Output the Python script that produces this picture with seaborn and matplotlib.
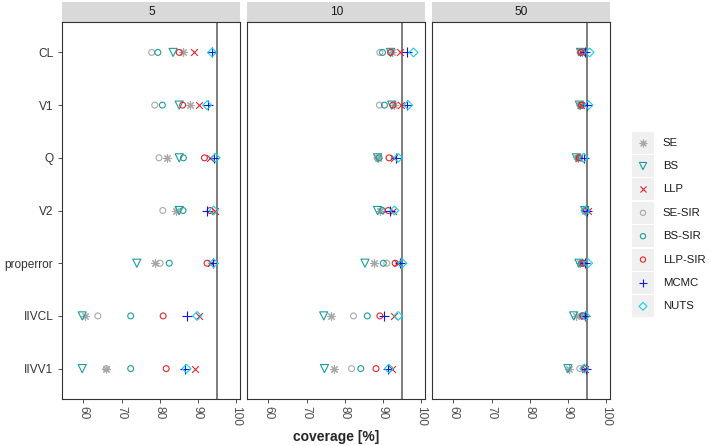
import pandas as pd
import seaborn as sns
import matplotlib.pyplot as plt
from matplotlib.patches import Rectangle

# parameters (rows, top to bottom), methods and facet panels
params = ["CL", "V1", "Q", "V2", "properror", "IIVCL", "IIVV1"]
methods = ["SE", "BS", "LLP", "SE-SIR", "BS-SIR", "LLP-SIR", "MCMC", "NUTS"]
panels = ["5", "10", "50"]

# coverage [%] per method, values in the order of params
cov_5 = {
    "SE":      [86.0, 87.8, 82.0, 84.2, 78.8, 60.4, 66.0],
    "BS":      [83.5, 85.1, 85.1, 85.1, 74.0, 59.7, 59.7],
    "LLP":     [88.9, 90.2, 93.2, 94.6, 93.4, 90.4, 89.3],
    "SE-SIR":  [77.9, 78.7, 79.8, 80.8, 80.1, 63.8, 66.0],
    "BS-SIR":  [79.5, 80.7, 86.2, 86.1, 82.5, 72.4, 72.4],
    "LLP-SIR": [85.1, 86.0, 91.7, 93.2, 92.4, 80.9, 81.7],
    "MCMC":    [93.7, 92.6, 94.1, 92.4, 93.9, 87.2, 86.5],
    "NUTS":    [93.7, 92.4, 94.6, 94.1, 94.1, 89.8, 87.0],
}
cov_10 = {
    "SE":      [92.3, 93.0, 88.8, 89.2, 87.7, 76.4, 77.3],
    "BS":      [92.0, 92.3, 88.6, 88.6, 85.3, 74.5, 74.7],
    "LLP":     [94.5, 94.7, 92.9, 92.6, 93.8, 93.0, 92.5],
    "SE-SIR":  [89.2, 89.1, 88.5, 89.6, 91.0, 82.3, 81.8],
    "BS-SIR":  [89.9, 90.4, 89.0, 89.9, 90.1, 85.9, 84.2],
    "LLP-SIR": [92.0, 92.6, 91.6, 91.4, 93.2, 89.2, 88.2],
    "MCMC":    [96.2, 96.4, 93.4, 91.9, 94.5, 90.4, 91.4],
    "NUTS":    [98.0, 96.6, 94.0, 93.0, 95.1, 94.0, 91.6],
}
cov_50 = {
    "SE":      [93.6, 93.2, 92.6, 94.6, 93.2, 92.0, 90.3],
    "BS":      [93.3, 93.0, 92.2, 94.4, 92.9, 91.5, 90.0],
    "LLP":     [93.5, 93.5, 92.8, 95.3, 94.0, 94.2, 94.6],
    "SE-SIR":  [93.2, 93.2, 92.4, 94.3, 93.5, 93.5, 93.1],
    "BS-SIR":  [93.4, 93.4, 92.8, 94.5, 93.6, 93.8, 94.2],
    "LLP-SIR": [93.4, 93.6, 93.0, 94.8, 94.0, 94.0, 94.4],
    "MCMC":    [94.5, 95.1, 94.1, 95.0, 94.4, 94.4, 94.8],
    "NUTS":    [95.7, 95.4, 94.1, 94.6, 95.3, 94.6, 94.3],
}
nominal = 95

styles = {
    "SE":      dict(marker=(8, 2, 0), color="#a8a8a8", s=30, open=False),
    "BS":      dict(marker="v", color="#1c9c9c", s=34, open=True),
    "LLP":     dict(marker="x", color="#e3262b", s=24, open=False),
    "SE-SIR":  dict(marker="o", color="#a8a8a8", s=18, open=True),
    "BS-SIR":  dict(marker="o", color="#1c9c9c", s=18, open=True),
    "LLP-SIR": dict(marker="o", color="#e3262b", s=18, open=True),
    "MCMC":    dict(marker="+", color="#1414e6", s=48, open=False),
    "NUTS":    dict(marker="D", color="#12d2e6", s=20, open=True),
}

rows = []
for panel, cov in zip(panels, [cov_5, cov_10, cov_50]):
    for m in methods:
        for p, v in zip(params, cov[m]):
            rows.append({"n": panel, "method": m, "param": p, "coverage": v})
df = pd.DataFrame(rows)
df["row"] = pd.Categorical(df["param"], categories=params).codes

sns.set_theme(style="white")
plt.rcParams["font.family"] = ["Liberation Sans", "DejaVu Sans"]

fig, axes = plt.subplots(1, 3, figsize=(7.09, 4.46), dpi=100, sharey=True)
fig.subplots_adjust(left=0.0879, right=0.8608, bottom=0.105, top=0.951, wspace=0.0393)

for i, (ax, panel) in enumerate(zip(axes, panels)):
    sub = df[df["n"] == panel]
    ax.axvline(nominal, color="#5a5a5a", lw=1.1, zorder=1)
    for m in methods:
        st = styles[m]
        kw = dict(color=st["color"], marker=st["marker"], s=st["s"], linewidth=0.8, zorder=3)
        if st["open"]:
            kw.update(facecolor="none", edgecolor=st["color"])
        sns.scatterplot(data=sub[sub["method"] == m], x="coverage", y="row", ax=ax,
                        legend=False, **kw)
    ax.set_xlim(54.5, 101.1)
    ax.set_ylim(6.58, -0.58)
    ax.set_xticks([60, 70, 80, 90, 100])
    ax.set_yticks(range(len(params)))
    ax.set_yticklabels(params)
    ax.set_xlabel("")
    ax.set_ylabel("")
    ax.tick_params(axis="x", bottom=True, labelrotation=-90, length=3, width=0.6,
                   color="#333333", labelsize=8.6, labelcolor="#4d4d4d", pad=2)
    ax.tick_params(axis="y", left=(i == 0), length=3, width=0.6, color="#333333",
                   labelsize=8.6, labelcolor="#333333", pad=3.5)
    for sp in ax.spines.values():
        sp.set_color("#333333")
        sp.set_linewidth(0.8)
    # facet strip
    ax.add_patch(Rectangle((0, 1), 1, 0.053, transform=ax.transAxes, fc="#d9d9d9",
                           ec="none", clip_on=False))
    ax.text(0.5, 1.0265, panel, transform=ax.transAxes, ha="center", va="center",
            fontsize=8.6, color="#1a1a1a")

fig.text(336 / 709, 0.02, "coverage [%]", ha="center", va="center",
         fontsize=10, fontweight="bold")

# legend with ggplot-like key boxes
lax = fig.add_axes([631.7 / 709, (446 - 318) / 446, 22.6 / 709, 187 / 446])
lax.set_xlim(0, 1)
lax.set_ylim(len(methods), 0)
lax.axis("off")
for j, m in enumerate(methods):
    st = styles[m]
    lax.add_patch(Rectangle((0, j + 0.03), 1, 0.94, fc="#f0f0f0", ec="none"))
    kw = dict(color=st["color"], marker=st["marker"], s=st["s"] * 0.8, linewidth=0.8)
    if st["open"]:
        kw.update(facecolor="none", edgecolor=st["color"])
    lax.scatter([0.5], [j + 0.5], **kw)
    lax.text(1.37, j + 0.5, m, ha="left", va="center", fontsize=8.2, color="#1a1a1a")

fig.savefig("out.png", dpi=100)
